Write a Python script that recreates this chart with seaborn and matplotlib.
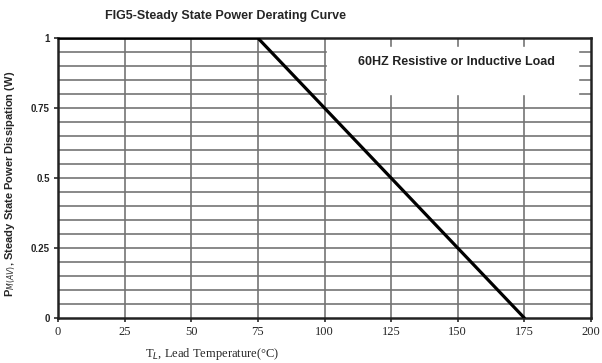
import matplotlib
matplotlib.use("Agg")
import matplotlib.pyplot as plt
import seaborn as sns
import pandas as pd
import numpy as np

temps = [0, 75, 175]
power = [1, 1, 0]
xticks = [0, 25, 50, 75, 100, 125, 150, 175, 200]
yticks = [0, 0.25, 0.5, 0.75, 1]
ytick_labels = ["0", "0.25", "0.5", "0.75", "1"]

sns.set_theme(style="white")
plt.rcParams['font.family'] = ['Liberation Sans', 'DejaVu Sans']

fig = plt.figure(figsize=(6.02, 3.63), dpi=100)
ax = fig.add_axes([58/602, 1-318/363, (591-58)/602, (318-38)/363])

df = pd.DataFrame({"T": temps, "P": power})

for yv in np.arange(0.05, 1.0, 0.05):
    ax.axhline(yv, color="#747474", lw=1.2, zorder=1)
for xv in xticks[1:-1]:
    ax.axvline(xv, color="#747474", lw=1.2, zorder=1)

ax.fill_between([101, 195], 0.80, 0.968, color="white", zorder=2)
ax.text(149.5, 0.914, "60HZ Resistive or Inductive Load", ha="center", va="center",
        fontsize=9, fontweight="bold", color="#222222", zorder=3)

sns.lineplot(data=df, x="T", y="P", ax=ax, color="black", lw=2.3, zorder=4)

ax.set_xlim(0, 200)
ax.set_ylim(0, 1)
ax.set_xticks(xticks)
ax.set_xticklabels([str(v) for v in xticks], fontsize=9, family="Liberation Serif")
ax.set_yticks(yticks)
ax.set_yticklabels(ytick_labels, fontsize=7, fontweight="bold")
ax.tick_params(axis="both", length=3, direction="out", color="#333333", pad=3,
               bottom=True, left=True)
for s in ax.spines.values():
    s.set_color("#222222")
    s.set_linewidth(1.8)

ax.set_xlabel("T$_L$, Lead Temperature(°C)", fontsize=9, family="Liberation Serif")
ax.xaxis.set_label_coords(0.29, -0.1)
ax.set_ylabel("P$_{M(AV)}$, Steady State Power Dissipation (W)", fontsize=8,
              fontweight="bold")
ax.yaxis.set_label_coords(-0.075, 0.48)

fig.text(0.375, 0.955, "FIG5-Steady State Power Derating Curve", ha="center",
         va="center", fontsize=9, fontweight="bold")

fig.savefig("out.png", dpi=100, facecolor="white")
